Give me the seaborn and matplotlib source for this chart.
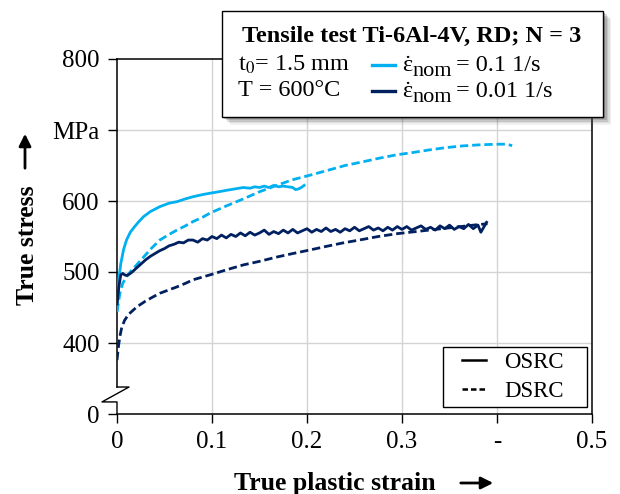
import numpy as np
import pandas as pd
import matplotlib
matplotlib.use("Agg")
import matplotlib.pyplot as plt
from matplotlib.lines import Line2D
from matplotlib.patches import Rectangle, FancyArrowPatch
import seaborn as sns

# ---------------- data ----------------
x_fast_osrc = [0, 0.002, 0.004, 0.007, 0.010, 0.014, 0.018, 0.023, 0.028, 0.035, 0.045, 0.055,
               0.063, 0.072, 0.080, 0.090, 0.098, 0.107, 0.115, 0.124, 0.133, 0.140, 0.145,
               0.150, 0.155, 0.160, 0.165, 0.170, 0.175, 0.180, 0.185, 0.188, 0.191, 0.194, 0.197]
y_fast_osrc = [446, 490, 512, 532, 545, 556, 563, 571, 578, 585, 592, 597,
               599, 603, 606, 609, 611, 613, 615, 617, 619, 618, 620,
               619, 621, 619, 622, 620, 621, 620, 619, 616, 617, 619, 622]

x_fast_dsrc = [0, 0.003, 0.006, 0.010, 0.015, 0.020, 0.028, 0.036, 0.045, 0.055, 0.063, 0.072,
               0.080, 0.090, 0.098, 0.115, 0.133, 0.150, 0.168, 0.185, 0.205, 0.224, 0.240,
               0.258, 0.275, 0.294, 0.310, 0.329, 0.345, 0.363, 0.380, 0.399, 0.410, 0.416]
y_fast_dsrc = [444, 470, 484, 493, 502, 509, 521, 533, 545, 553, 559, 565,
               571, 577, 583, 593, 603, 613, 622, 630, 637, 644, 650,
               655, 660, 665, 668, 672, 675, 677.5, 679, 680, 680, 678]

x_slow_osrc = [0, 0.002, 0.004, 0.006, 0.008, 0.010, 0.013, 0.016, 0.020, 0.025, 0.030, 0.035,
               0.040, 0.045, 0.050, 0.055, 0.060, 0.065, 0.070, 0.075,
               0.080, 0.085, 0.090, 0.095, 0.100, 0.105, 0.110, 0.115, 0.120, 0.125, 0.130,
               0.135, 0.140, 0.145, 0.150, 0.155, 0.160, 0.165, 0.170, 0.175, 0.180, 0.185,
               0.190, 0.195, 0.200, 0.205, 0.210, 0.215, 0.220, 0.225, 0.230, 0.235, 0.240,
               0.245, 0.250, 0.255, 0.260, 0.265, 0.270, 0.275, 0.280, 0.285, 0.290, 0.295,
               0.300, 0.305, 0.310, 0.315, 0.320, 0.325, 0.330, 0.335, 0.340, 0.345, 0.350,
               0.355, 0.360, 0.365, 0.370, 0.375, 0.380, 0.383, 0.386, 0.389]
y_slow_osrc = [455, 480, 496, 498, 496, 495, 497, 500, 505, 511, 517, 522,
               526, 530, 533, 537, 539, 542, 541, 545,
               545, 542, 547, 545, 550, 547, 552, 548, 553, 550, 555,
               551, 556, 552, 555, 559, 553, 557, 554, 559, 555, 560,
               555, 558, 561, 556, 560, 557, 562, 557, 560, 556, 561,
               558, 563, 558, 561, 564, 559, 562, 558, 563, 559, 564,
               560, 564, 559, 562, 565, 560, 563, 559, 565, 561, 566,
               560, 564, 561, 567, 561, 566, 556, 563, 570]

x_slow_dsrc = [0, 0.0015, 0.003, 0.005, 0.008, 0.012, 0.016, 0.021, 0.030, 0.038, 0.045, 0.055,
               0.063, 0.072, 0.080, 0.098, 0.115, 0.133, 0.150, 0.168, 0.185, 0.203, 0.220,
               0.238, 0.255, 0.275, 0.295, 0.315, 0.335, 0.355, 0.375, 0.390]
y_slow_dsrc = [376, 395, 409, 422, 432, 440, 445, 451, 459, 465, 470, 475,
               479, 484, 489, 496, 503, 510, 515, 521, 526, 531, 536,
               541, 545, 550, 554, 557, 560, 563, 566, 568]

rate_labels = ["0.1 1/s", "0.01 1/s"]
method_labels = ["OSRC", "DSRC"]
x_ticks = [0, 0.1, 0.2, 0.3, 0.4, 0.5]
x_tick_labels = ["0", "0.1", "0.2", "0.3", "-", "0.5"]
y_ticks = [300, 400, 500, 600, 700, 800]
y_tick_labels = ["0", "400", "500", "600", "MPa", "800"]

frames = []
for xs, ys, r, m in [(x_fast_osrc, y_fast_osrc, rate_labels[0], "OSRC"),
                     (x_fast_dsrc, y_fast_dsrc, rate_labels[0], "DSRC"),
                     (x_slow_osrc, y_slow_osrc, rate_labels[1], "OSRC"),
                     (x_slow_dsrc, y_slow_dsrc, rate_labels[1], "DSRC")]:
    frames.append(pd.DataFrame({"strain": xs, "stress": ys, "rate": r, "method": m}))
df = pd.concat(frames, ignore_index=True)

# ---------------- style ----------------
LIGHT = "#00b0f0"
NAVY = "#002060"
plt.rcParams["font.family"] = ["Liberation Serif", "DejaVu Serif"]
plt.rcParams["mathtext.fontset"] = "stix"

W, H = 620, 494
fig = plt.figure(figsize=(W / 100, H / 100), dpi=100)
def fx(px): return px / W
def fy(py): return 1 - py / H

ax_l, ax_r, ax_t, ax_b = 117, 592, 59, 414
ax = fig.add_axes([fx(ax_l), fy(ax_b), fx(ax_r) - fx(ax_l), fy(ax_t) - fy(ax_b)])

sns.lineplot(data=df, x="strain", y="stress", hue="rate", style="method",
             palette={rate_labels[0]: LIGHT, rate_labels[1]: NAVY},
             dashes={"OSRC": "", "DSRC": (3.0, 1.4)},
             hue_order=rate_labels, style_order=method_labels,
             estimator=None, sort=False, lw=2.0, legend=False, ax=ax, zorder=3)

ax.set_xlim(0, 0.5)
ax.set_ylim(300, 800)
ax.set_xticks(x_ticks)
ax.set_xticklabels(x_tick_labels)
ax.set_yticks(y_ticks)
ax.set_yticklabels(y_tick_labels)
ax.tick_params(direction="out", length=6.5, width=1.0, labelsize=18, colors="black", pad=6)
ax.set_xlabel("")
ax.set_ylabel("")

for v in x_ticks[1:-1]:
    ax.axvline(v, color="#d4d4d4", lw=1.0, zorder=0)
for v in y_ticks[1:-1]:
    ax.axhline(v, color="#d4d4d4", lw=1.0, zorder=0)

for s in ax.spines.values():
    s.set_color("black")
    s.set_linewidth(1.1)
ax.spines["left"].set_bounds(338, 800)

# axis break symbol on the left spine
brk = Line2D([0, 0.0253, -0.0316, 0, 0], [338, 338, 317, 317, 300],
             transform=ax.get_yaxis_transform(), color="black", lw=1.0,
             clip_on=False, zorder=5)
ax.add_line(brk)

# lower legend (line style): frame drawn separately
handles = [Line2D([], [], color="black", lw=1.8, ls="-"),
           Line2D([], [], color="black", lw=1.8, ls=(0, (2.2, 1.2)))]
leg = ax.legend(handles, method_labels, loc="center left",
                bbox_to_anchor=((462 - ax_l) / (ax_r - ax_l), (ax_b - 377) / (ax_b - ax_t)),
                fontsize=16.5, frameon=False, handlelength=1.05, handletextpad=0.8,
                borderpad=0, labelspacing=0.32, borderaxespad=0)
ax.add_patch(Rectangle(((443 - ax_l) / (ax_r - ax_l), (ax_b - 407) / (ax_b - ax_t)),
                       (587 - 443) / (ax_r - ax_l), 60 / (ax_b - ax_t),
                       transform=ax.transAxes, facecolor="white", edgecolor="black",
                       lw=1.0, zorder=4))
leg.set_zorder(6)

# axis labels with arrows
fig.text(fx(335), fy(483), "True plastic strain", ha="center", va="center",
         fontsize=18.5, fontweight="bold")
fig.add_artist(FancyArrowPatch(
    (fx(458), fy(483)), (fx(496), fy(483)), transform=fig.transFigure,
    arrowstyle="-|>", mutation_scale=18, lw=2.0, color="black"))
fig.text(fx(27), fy(245), "True stress", ha="center", va="center", rotation=90,
         fontsize=18.5, fontweight="bold")
fig.add_artist(FancyArrowPatch(
    (fx(25), fy(171)), (fx(25), fy(131)), transform=fig.transFigure,
    arrowstyle="-|>", mutation_scale=18, lw=2.0, color="black"))

# upper info box with soft shadow
bx0, by0, bx1, by1 = 222, 11, 603, 117
for i, a in enumerate([0.08, 0.12, 0.16, 0.22, 0.30]):
    off = 8 - i * 1.5
    fig.add_artist(Rectangle((fx(bx0 + off), fy(by1 + off)), fx(bx1) - fx(bx0),
                             fy(by0) - fy(by1), transform=fig.transFigure,
                             facecolor="#505050", edgecolor="none", alpha=a, zorder=8))
fig.add_artist(Rectangle((fx(bx0), fy(by1)), fx(bx1) - fx(bx0), fy(by0) - fy(by1),
                         transform=fig.transFigure, facecolor="white",
                         edgecolor="black", lw=1.0, zorder=9))
fig.text(fx(242), fy(36), "Tensile test Ti-6Al-4V, RD; N = 3", fontsize=17.5,
         fontweight="bold", va="center", ha="left", zorder=10)
fig.text(fx(238), fy(65), r"t$_0$= 1.5 mm", fontsize=17.5, va="center", ha="left", zorder=10)
fig.text(fx(238), fy(91), "T = 600°C", fontsize=17.5, va="center", ha="left", zorder=10)

renderer = fig.canvas.get_renderer()
for yy, col, lab in [(65, LIGHT, rate_labels[0]), (91, NAVY, rate_labels[1])]:
    fig.add_artist(Line2D([fx(372), fx(395)], [fy(yy), fy(yy)], transform=fig.transFigure,
                          color=col, lw=2.4, zorder=10))
    t1 = fig.text(fx(402), fy(yy + 6), "ε", fontsize=17.5, va="baseline", ha="left",
                  zorder=10)
    e1 = t1.get_window_extent(renderer)
    fig.text((e1.x0 + e1.x1) / 2 / W, fy(yy + 6), "\u02d9", fontsize=17.5,
             va="baseline", ha="center", zorder=10)
    t2 = fig.text(e1.x1 / W, fy(yy + 11), "nom", fontsize=16, va="baseline", ha="left",
                  zorder=10)
    e2 = t2.get_window_extent(renderer)
    fig.text(e2.x1 / W + fx(4), fy(yy + 6), "= " + lab, fontsize=17.5, va="baseline",
             ha="left", zorder=10)

fig.savefig("out.png", dpi=100)
